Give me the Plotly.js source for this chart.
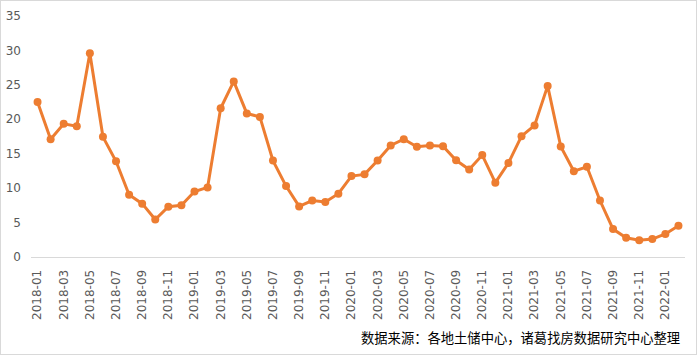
<!DOCTYPE html>
<html>
<head>
<meta charset="utf-8">
<script src="https://cdn.plot.ly/plotly-3.0.1.min.js"></script>
<style>
  html, body { margin: 0; padding: 0; background: #fff; }
  #frame { position: absolute; left: 0; top: 0; width: 695px; height: 353px; border: 1px solid #d9d9d9; }
  #chart { width: 695px; height: 353px; }
</style>
</head>
<body>
<div id="frame"><div id="chart"></div></div>
<script>
const months = [
  '2018-01','2018-02','2018-03','2018-04','2018-05','2018-06','2018-07','2018-08','2018-09','2018-10','2018-11','2018-12',
  '2019-01','2019-02','2019-03','2019-04','2019-05','2019-06','2019-07','2019-08','2019-09','2019-10','2019-11','2019-12',
  '2020-01','2020-02','2020-03','2020-04','2020-05','2020-06','2020-07','2020-08','2020-09','2020-10','2020-11','2020-12',
  '2021-01','2021-02','2021-03','2021-04','2021-05','2021-06','2021-07','2021-08','2021-09','2021-10','2021-11','2021-12',
  '2022-01','2022-02'
];
const values = [
  22.5, 17.1, 19.35, 19.0, 29.6, 17.45, 13.9, 9.05, 7.75, 5.45, 7.3, 7.5,
  9.5, 10.1, 21.6, 25.5, 20.85, 20.35, 14.0, 10.3, 7.35, 8.2, 8.0, 9.2,
  11.75, 12.0, 14.0, 16.2, 17.1, 16.0, 16.2, 16.1, 14.05, 12.7, 14.8, 10.8,
  13.65, 17.55, 19.1, 24.85, 16.05, 12.45, 13.1, 8.2, 4.05, 2.8, 2.45, 2.6,
  3.35, 4.55
];
const tickLabels = [
  '2018-01','2018-03','2018-05','2018-07','2018-09','2018-11',
  '2019-01','2019-03','2019-05','2019-07','2019-09','2019-11',
  '2020-01','2020-03','2020-05','2020-07','2020-09','2020-11',
  '2021-01','2021-03','2021-05','2021-07','2021-09','2021-11',
  '2022-01'
];
const yTicks = [0, 5, 10, 15, 20, 25, 30, 35];
const sourceText = '数据来源：各地土储中心，诸葛找房数据研究中心整理';

const trace = {
  type: 'scatter',
  mode: 'lines+markers',
  x: months,
  y: values,
  line: { color: '#ED7D31', width: 3 },
  marker: { color: '#ED7D31', size: 8 },
  hoverinfo: 'x+y'
};

const layout = {
  width: 695,
  height: 353,
  margin: { l: 30, r: 11, t: 15, b: 97 },
  paper_bgcolor: '#fff',
  plot_bgcolor: '#fff',
  showlegend: false,
  font: { family: 'DejaVu Sans, sans-serif', size: 12, color: '#595959' },
  xaxis: {
    type: 'category',
    range: [-0.5, months.length - 0.5],
    tickmode: 'array',
    tickvals: tickLabels,
    ticktext: tickLabels,
    tickangle: -90,
    tickfont: { family: 'DejaVu Sans, sans-serif', size: 12, color: '#595959' },
    showgrid: false,
    zeroline: false,
    showline: true,
    linecolor: '#d9d9d9',
    linewidth: 1,
    ticks: '',
    ticklabelstandoff: 7
  },
  yaxis: {
    range: [0, 35],
    tickmode: 'array',
    tickvals: yTicks,
    ticktext: yTicks.map(String),
    tickfont: { family: 'DejaVu Sans, sans-serif', size: 12, color: '#595959' },
    showgrid: false,
    zeroline: false,
    showline: false,
    ticks: '',
    ticklabelstandoff: 9
  },
  annotations: [{
    text: sourceText,
    xref: 'paper', yref: 'paper',
    x: 0.996, xanchor: 'right',
    y: -0.332, yanchor: 'middle',
    showarrow: false,
    font: { family: 'Noto Sans CJK SC, sans-serif', size: 13.3, color: '#000' }
  }]
};

Plotly.newPlot('chart', [trace], layout, { displayModeBar: false, staticPlot: true });
</script>
</body>
</html>
